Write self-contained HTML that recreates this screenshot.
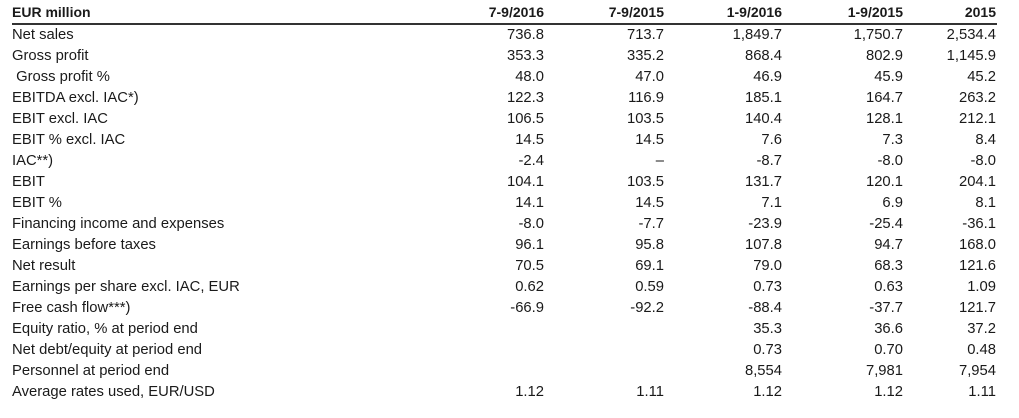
<!DOCTYPE html>
<html><head><meta charset="utf-8"><style>
body{margin:0;background:#fff;width:1019px;height:418px;overflow:hidden;font-family:"Liberation Sans",sans-serif;font-size:14.8px;color:#1a1a1a;}
.r{position:absolute;left:0;width:1019px;height:21px;line-height:21px;}
.r span{position:absolute;white-space:nowrap;}
.l{left:12px;}
.c1{right:475px}.c2{right:355px}.c3{right:237px}.c4{right:116px}.c5{right:23px}
.h{font-weight:bold;font-size:14px}
.line{position:absolute;left:12px;width:985px;top:23px;height:1.5px;background:#333;}
#d{position:absolute;left:0;top:2px;}
</style></head><body>
<div class="r h" style="top:2px"><span class="l">EUR million</span><span class="c1">7-9/2016</span><span class="c2">7-9/2015</span><span class="c3">1-9/2016</span><span class="c4">1-9/2015</span><span class="c5">2015</span></div>
<div class="line"></div>
<div id="d">
<div class="r" style="top:23px"><span class="l">Net sales</span><span class="c1">736.8</span><span class="c2">713.7</span><span class="c3">1,849.7</span><span class="c4">1,750.7</span><span class="c5">2,534.4</span></div>
<div class="r" style="top:44px"><span class="l">Gross profit</span><span class="c1">353.3</span><span class="c2">335.2</span><span class="c3">868.4</span><span class="c4">802.9</span><span class="c5">1,145.9</span></div>
<div class="r" style="top:65px"><span class="l">&nbsp;Gross profit %</span><span class="c1">48.0</span><span class="c2">47.0</span><span class="c3">46.9</span><span class="c4">45.9</span><span class="c5">45.2</span></div>
<div class="r" style="top:86px"><span class="l">EBITDA excl. IAC*)</span><span class="c1">122.3</span><span class="c2">116.9</span><span class="c3">185.1</span><span class="c4">164.7</span><span class="c5">263.2</span></div>
<div class="r" style="top:107px"><span class="l">EBIT excl. IAC</span><span class="c1">106.5</span><span class="c2">103.5</span><span class="c3">140.4</span><span class="c4">128.1</span><span class="c5">212.1</span></div>
<div class="r" style="top:128px"><span class="l">EBIT % excl. IAC</span><span class="c1">14.5</span><span class="c2">14.5</span><span class="c3">7.6</span><span class="c4">7.3</span><span class="c5">8.4</span></div>
<div class="r" style="top:149px"><span class="l">IAC**)</span><span class="c1">-2.4</span><span class="c2">–</span><span class="c3">-8.7</span><span class="c4">-8.0</span><span class="c5">-8.0</span></div>
<div class="r" style="top:170px"><span class="l">EBIT</span><span class="c1">104.1</span><span class="c2">103.5</span><span class="c3">131.7</span><span class="c4">120.1</span><span class="c5">204.1</span></div>
<div class="r" style="top:191px"><span class="l">EBIT %</span><span class="c1">14.1</span><span class="c2">14.5</span><span class="c3">7.1</span><span class="c4">6.9</span><span class="c5">8.1</span></div>
<div class="r" style="top:212px"><span class="l">Financing income and expenses</span><span class="c1">-8.0</span><span class="c2">-7.7</span><span class="c3">-23.9</span><span class="c4">-25.4</span><span class="c5">-36.1</span></div>
<div class="r" style="top:233px"><span class="l">Earnings before taxes</span><span class="c1">96.1</span><span class="c2">95.8</span><span class="c3">107.8</span><span class="c4">94.7</span><span class="c5">168.0</span></div>
<div class="r" style="top:254px"><span class="l">Net result</span><span class="c1">70.5</span><span class="c2">69.1</span><span class="c3">79.0</span><span class="c4">68.3</span><span class="c5">121.6</span></div>
<div class="r" style="top:275px"><span class="l">Earnings per share excl. IAC, EUR</span><span class="c1">0.62</span><span class="c2">0.59</span><span class="c3">0.73</span><span class="c4">0.63</span><span class="c5">1.09</span></div>
<div class="r" style="top:296px"><span class="l">Free cash flow***)</span><span class="c1">-66.9</span><span class="c2">-92.2</span><span class="c3">-88.4</span><span class="c4">-37.7</span><span class="c5">121.7</span></div>
<div class="r" style="top:317px"><span class="l">Equity ratio, % at period end</span><span class="c3">35.3</span><span class="c4">36.6</span><span class="c5">37.2</span></div>
<div class="r" style="top:338px"><span class="l">Net debt/equity at period end</span><span class="c3">0.73</span><span class="c4">0.70</span><span class="c5">0.48</span></div>
<div class="r" style="top:359px"><span class="l">Personnel at period end</span><span class="c3">8,554</span><span class="c4">7,981</span><span class="c5">7,954</span></div>
<div class="r" style="top:380px"><span class="l">Average rates used, EUR/USD</span><span class="c1">1.12</span><span class="c2">1.11</span><span class="c3">1.12</span><span class="c4">1.12</span><span class="c5">1.11</span></div>
</div>
</body></html>
